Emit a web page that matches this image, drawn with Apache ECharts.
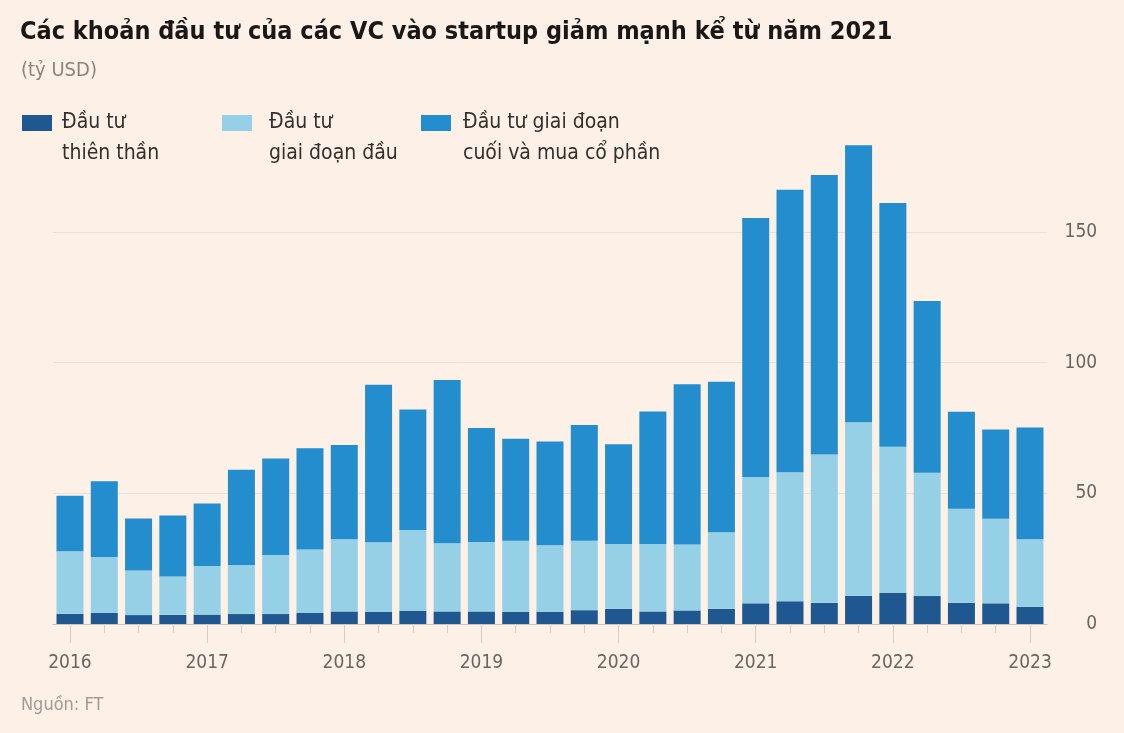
<!DOCTYPE html>
<html><head><meta charset="utf-8">
<script src="https://cdn.jsdelivr.net/npm/echarts@6/dist/echarts.min.js"></script>
<style>html,body{margin:0;padding:0;background:#fdf0e6;}#c{width:1124px;height:733px;}</style>
</head><body><div id="c"></div>
<script>
const categories = ['2016 Q1','2016 Q2','2016 Q3','2016 Q4','2017 Q1','2017 Q2','2017 Q3','2017 Q4','2018 Q1','2018 Q2','2018 Q3','2018 Q4','2019 Q1','2019 Q2','2019 Q3','2019 Q4','2020 Q1','2020 Q2','2020 Q3','2020 Q4','2021 Q1','2021 Q2','2021 Q3','2021 Q4','2022 Q1','2022 Q2','2022 Q3','2022 Q4','2023 Q1'];
const angel = [3.9,4.2,3.4,3.5,3.6,3.8,3.8,4.2,4.8,4.7,5.1,4.8,4.8,4.7,4.7,5.3,5.8,4.8,5.2,5.8,7.9,8.7,8.1,10.8,12.0,10.7,8.1,7.9,6.6];
const early = [23.9,21.4,17.1,14.7,18.6,18.8,22.6,24.3,27.6,26.6,30.9,26.1,26.6,27.2,25.4,26.6,24.8,25.8,25.2,29.3,48.4,49.4,56.8,66.4,55.8,47.2,36.0,32.4,25.8];
const late = [21.3,29.0,19.9,23.3,23.9,36.4,36.9,38.8,36.1,60.3,46.1,62.5,43.6,39.0,39.7,44.3,38.2,50.7,61.3,57.6,99.1,108.1,106.9,106.0,93.3,65.7,37.1,34.1,42.8];
const seriesNames = ['Đầu tư\nthiên thần','Đầu tư\ngiai đoạn đầu','Đầu tư giai đoạn\ncuối và mua cổ phần'];
const yTicks = [0,50,100,150];

const FONT = '"DejaVu Sans Condensed","Roboto",sans-serif';
const colors = ['#1f5790','#96d0e6','#238dce'];
const chart = echarts.init(document.getElementById('c'));

// icon: a 30x16 rectangle at the top of a 30x47 box, so it lines up with the first text line
const ICON = 'path://M0,0L30,0L30,16L0,16Z M0,47L0.01,47';

function legend(i, left, padLeft){
  return {
    left: left, top: 107.5, padding: 0, itemWidth: 30, itemHeight: 47, icon: ICON,
    symbolKeepAspect: true, selectedMode: false,
    data: [seriesNames[i]],
    textStyle: {fontFamily: FONT, fontSize: 21, lineHeight: 31, color: '#33302e', padding: [0,0,0,padLeft]}
  };
}

chart.setOption({
  backgroundColor: '#fdf0e6',
  animation: false,
  title: [
    {text: 'Các khoản đầu tư của các VC vào startup giảm mạnh kể từ năm 2021', left: 20, top: 20, padding: 0,
     textStyle: {fontFamily: FONT, fontWeight: 'bold', fontSize: 25, color: '#1a1817'}},
    {text: '(tỷ USD)', left: 21, top: 61, padding: 0,
     textStyle: {fontFamily: FONT, fontWeight: 'normal', fontSize: 20, color: '#8a837d'}},
    {text: 'Nguồn: FT', left: 21, top: 696, padding: 0,
     textStyle: {fontFamily: FONT, fontWeight: 'normal', fontSize: 18, color: '#a29b95'}}
  ],
  legend: [legend(0, 22, 5), legend(1, 222, 12), legend(2, 421, 7)],
  grid: {left: 52.85, right: 76.85, top: 127.5, bottom: 109, containLabel: false},
  xAxis: [
    {type: 'category', data: categories, boundaryGap: true,
     axisLine: {show: true, lineStyle: {color: '#cbc2ba', width: 1}},
     axisTick: {show: true, alignWithLabel: true, interval: 0, length: 9, lineStyle: {color: '#d6cdc5'}},
     axisLabel: {interval: 3, margin: 30, fontFamily: FONT, fontSize: 19, color: '#6b6560',
       formatter: v => v.slice(0,4)}},
    {type: 'category', data: categories, boundaryGap: true, position: 'bottom',
     axisLine: {show: false},
     axisTick: {show: true, alignWithLabel: true, interval: 3, length: 19, lineStyle: {color: '#d6cdc5'}},
     axisLabel: {show: false}}
  ],
  yAxis: {type: 'value', position: 'right', min: 0, max: 190, interval: 50,
    axisLine: {show: false}, axisTick: {show: false},
    axisLabel: {showMaxLabel: false, align: 'right', margin: 50, padding: [4,0,0,0], fontFamily: FONT, fontSize: 19, color: '#6b6560',
      formatter: v => yTicks.includes(v) ? String(v) : ''},
    splitLine: {show: true, showMinLine: false, showMaxLine: false, lineStyle: {color: '#ebe0d6', width: 1}}
  },
  series: [
    {name: seriesNames[0], type: 'bar', stack: 't', data: angel, barWidth: 27, itemStyle: {color: colors[0]}},
    {name: seriesNames[1], type: 'bar', stack: 't', data: early, barWidth: 27, itemStyle: {color: colors[1]}},
    {name: seriesNames[2], type: 'bar', stack: 't', data: late, barWidth: 27, itemStyle: {color: colors[2]}}
  ]
});
</script></body></html>
